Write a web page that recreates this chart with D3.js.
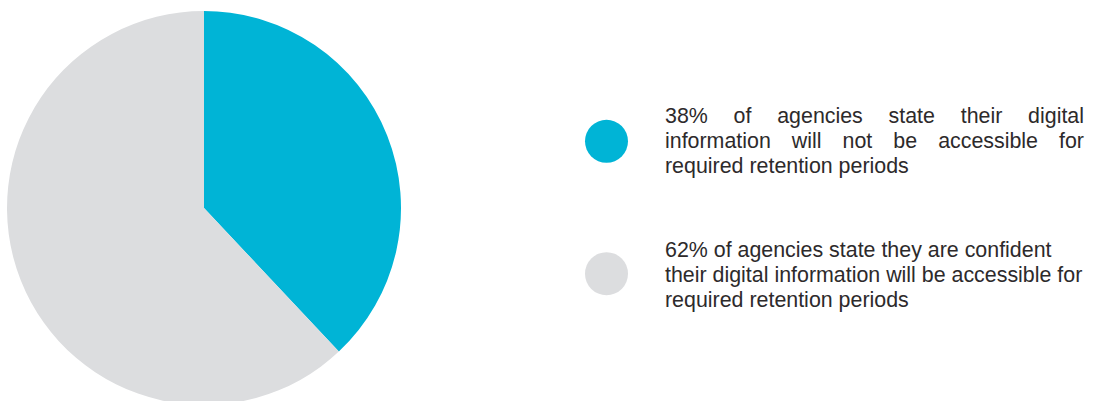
<!DOCTYPE html>
<html>
<head>
<meta charset="utf-8">
<script src="https://cdn.jsdelivr.net/npm/d3@7"></script>
<style>
  html, body { margin: 0; padding: 0; background: #ffffff; }
  svg { display: block; }
</style>
</head>
<body>
<svg id="chart" width="1097" height="401"></svg>
<script>
// Survey result: accessibility of digital information for retention periods
const categories = ["Not accessible", "Confident accessible"];
const values = [38, 62];
const colors = ["#00b4d6", "#dcdddf"];
const legendLines = [
  ["38% of agencies state their digital", "information will not be accessible for", "required retention periods"],
  ["62% of agencies state they are confident", "their digital information will be accessible for", "required retention periods"]
];
const justified = [true, false];

const svg = d3.select("#chart");
const cx = 204, cy = 208, r = 197;

const pie = d3.pie().sort(null).value(d => d)(values);
const arc = d3.arc().innerRadius(0).outerRadius(r);

svg.append("g")
  .attr("transform", `translate(${cx},${cy})`)
  .selectAll("path")
  .data(pie)
  .join("path")
  .attr("d", arc)
  .attr("fill", (d, i) => colors[i]);

// Legend: swatch circles with wrapped descriptions
const textX = 665, textRight = 1084;
const fontSize = 21.4;
const swatchY = [141.3, 273.7];
const firstBaseline = [123, 256.7];
const lineGap = 25;

const legend = svg.append("g")
  .style("font-family", "'Liberation Sans', Arial, Helvetica, sans-serif")
  .style("font-size", fontSize + "px")
  .attr("fill", "#2d2a2b");

categories.forEach((c, i) => {
  legend.append("circle")
    .attr("cx", 606.5)
    .attr("cy", swatchY[i])
    .attr("r", 21.5)
    .attr("fill", colors[i]);

  const lines = legendLines[i];
  lines.forEach((line, j) => {
    const y = firstBaseline[i] + j * lineGap;
    const isLast = j === lines.length - 1;
    if (justified[i] && !isLast) {
      // spread words across the full column width
      const words = line.split(" ");
      const nodes = words.map(w => legend.append("text").attr("y", y).text(w));
      const widths = nodes.map(n => n.node().getComputedTextLength());
      const total = d3.sum(widths);
      const gap = (textRight - textX - total) / (words.length - 1);
      let x = textX;
      nodes.forEach((n, k) => { n.attr("x", x); x += widths[k] + gap; });
    } else {
      legend.append("text").attr("x", textX).attr("y", y).text(line);
    }
  });
});
</script>
</body>
</html>
